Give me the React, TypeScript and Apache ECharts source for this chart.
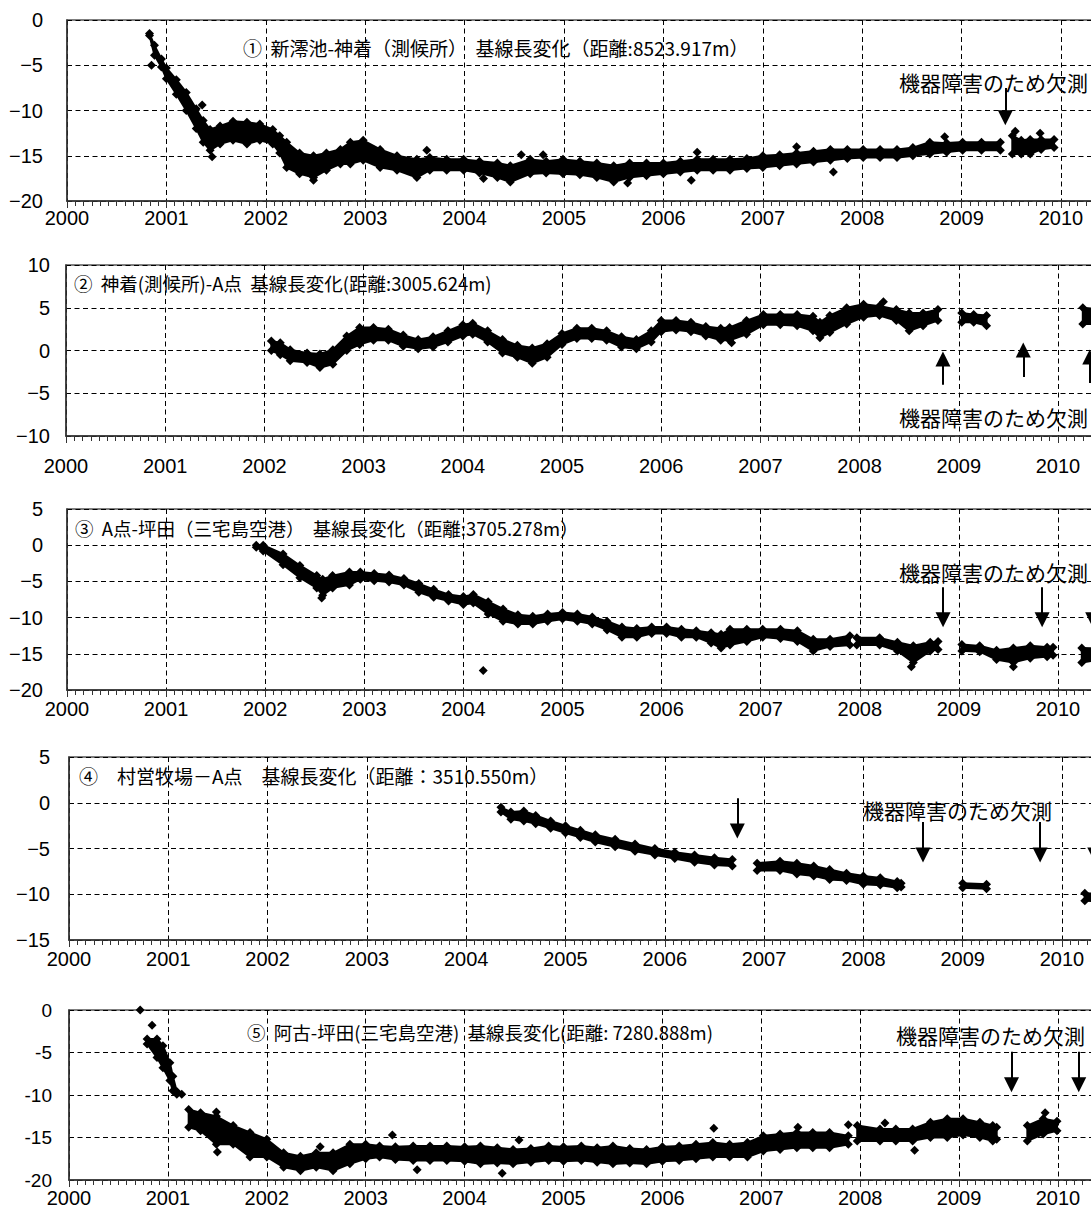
import React, { useEffect, useRef } from "react";
import * as echarts from "echarts";

type Row = [number, number, number] | null;

// ---- data: [year, upper edge, lower edge] ; null = data gap ----
const panel1Band: Row[] = [
  [2000.83, -1.5, -1.7], [2000.88, -2.8, -3.9], [2000.95, -4.3, -5.2], [2001.0, -5.3, -6.5],
  [2001.1, -6.6, -8.2], [2001.2, -8.0, -10.0], [2001.3, -9.8, -12.0], [2001.37, -11.1, -13.5],
  [2001.44, -12.1, -14.4], [2001.54, -11.7, -13.7], [2001.67, -11.2, -13.3], [2001.81, -11.3, -13.7],
  [2001.94, -11.5, -13.3], [2002.07, -12.1, -13.7], [2002.14, -12.8, -14.7], [2002.21, -13.5, -16.3],
  [2002.34, -14.7, -17.0], [2002.48, -15.0, -17.4], [2002.61, -14.7, -16.6], [2002.75, -14.3, -15.9],
  [2002.85, -13.5, -15.9], [2002.98, -13.3, -15.5], [2003.15, -14.3, -16.3], [2003.32, -15.0, -16.6],
  [2003.52, -15.4, -17.4], [2003.65, -15.2, -16.6], [2003.82, -15.4, -16.6], [2003.99, -15.4, -16.6],
  [2004.15, -15.6, -16.9], [2004.33, -15.8, -17.4], [2004.46, -16.1, -17.9], [2004.66, -15.4, -17.0],
  [2004.82, -15.6, -16.9], [2004.99, -15.4, -17.0], [2005.16, -15.6, -17.1], [2005.33, -15.8, -17.4],
  [2005.5, -16.1, -17.9], [2005.66, -15.8, -17.4], [2005.83, -15.8, -17.2], [2006.0, -15.8, -17.0],
  [2006.17, -15.6, -16.8], [2006.34, -15.4, -16.6], [2006.5, -15.4, -16.6], [2006.67, -15.4, -16.6],
  [2006.84, -15.3, -16.4], [2007.0, -15.0, -16.3], [2007.17, -14.9, -16.1], [2007.34, -14.7, -15.9],
  [2007.51, -14.5, -15.7], [2007.68, -14.3, -15.5], [2007.85, -14.3, -15.3], [2008.01, -14.3, -15.2],
  [2008.18, -14.3, -15.2], [2008.35, -14.3, -15.2], [2008.51, -14.1, -15.0], [2008.68, -13.5, -14.8],
  [2008.85, -13.6, -14.6], [2009.01, -13.5, -14.4], [2009.2, -13.5, -14.4], [2009.39, -13.5, -14.4],
  null,
  [2009.51, -12.8, -14.8], [2009.6, -13.3, -14.8], [2009.69, -13.2, -14.8], [2009.8, -13.2, -14.3],
  [2009.93, -13.2, -14.1],
];

const panel2Band: Row[] = [
  [2002.07, 1.1, 0.0], [2002.16, 0.9, -0.5], [2002.26, 0.1, -1.2], [2002.43, -0.3, -1.4],
  [2002.56, -0.4, -2.0], [2002.69, 0.1, -1.6], [2002.83, 1.7, 0.0], [2002.96, 2.7, 0.7],
  [2003.1, 2.7, 1.2], [2003.25, 2.5, 1.2], [2003.4, 1.8, 0.5], [2003.55, 1.3, 0.2],
  [2003.7, 1.6, 0.4], [2003.85, 2.3, 1.0], [2004.0, 3.0, 1.7], [2004.1, 3.2, 1.9],
  [2004.25, 2.3, 1.0], [2004.4, 1.3, -0.3], [2004.55, 0.6, -0.8], [2004.7, 0.3, -1.5],
  [2004.85, 0.8, -0.8], [2005.0, 2.0, 0.7], [2005.15, 2.6, 1.4], [2005.3, 2.6, 1.4],
  [2005.45, 2.3, 1.2], [2005.6, 1.6, 0.4], [2005.75, 1.3, 0.2], [2005.9, 2.3, 1.0],
  [2006.0, 3.5, 2.2], [2006.15, 3.5, 2.4], [2006.3, 3.3, 2.2], [2006.45, 2.8, 1.7],
  [2006.6, 2.6, 1.2], [2006.69, 2.7, 1.2], [2006.86, 3.5, 1.9], [2007.03, 4.2, 3.0],
  [2007.2, 4.2, 3.0], [2007.37, 4.2, 2.9], [2007.53, 4.0, 2.3], [2007.6, 3.3, 1.5],
  [2007.7, 4.1, 2.1], [2007.87, 5.0, 3.1], [2008.04, 5.4, 3.9], [2008.2, 5.2, 4.1],
  [2008.37, 4.8, 3.5], [2008.5, 4.4, 2.3], [2008.64, 4.4, 2.9], [2008.79, 4.8, 3.5],
  null,
  [2009.03, 4.4, 3.3], [2009.15, 4.2, 3.3], [2009.28, 4.1, 2.9],
  null,
  [2010.25, 5.0, 3.1], [2010.45, 4.8, 3.1],
];

const panel3Band: Row[] = [
  [2001.91, 0.0, -0.3], [2001.98, 0.0, -0.8], [2002.18, -1.2, -2.7], [2002.35, -2.8, -4.5],
  [2002.52, -4.2, -5.9], [2002.58, -4.7, -6.9], [2002.68, -4.2, -5.9], [2002.85, -3.7, -5.5],
  [2002.96, -3.7, -4.7], [2003.1, -3.9, -4.9], [2003.25, -4.1, -5.1], [2003.4, -4.6, -5.5],
  [2003.55, -5.3, -6.5], [2003.7, -6.1, -7.2], [2003.85, -6.8, -7.7], [2004.0, -7.1, -8.2],
  [2004.1, -6.8, -8.0], [2004.25, -7.8, -9.5], [2004.4, -8.8, -10.5], [2004.55, -9.6, -10.9],
  [2004.7, -9.8, -10.9], [2004.85, -9.5, -10.5], [2005.0, -9.3, -10.2], [2005.15, -9.5, -10.5],
  [2005.3, -9.9, -10.9], [2005.45, -10.5, -11.7], [2005.6, -11.3, -12.7], [2005.75, -11.5, -12.7],
  [2005.9, -11.3, -12.2], [2006.05, -11.3, -12.2], [2006.2, -11.6, -12.7], [2006.35, -11.8, -12.7],
  [2006.5, -12.1, -13.5], [2006.6, -12.3, -14.2], [2006.69, -11.6, -13.8], [2006.86, -11.6, -13.3],
  [2007.02, -11.6, -12.7], [2007.2, -11.6, -12.9], [2007.37, -11.8, -13.3], [2007.53, -13.0, -14.6],
  [2007.7, -13.0, -14.0], [2007.9, -12.5, -13.8],
  null,
  [2007.97, -12.8, -13.8], [2008.2, -12.8, -13.8], [2008.38, -13.4, -14.6], [2008.54, -13.9, -16.2],
  [2008.71, -13.4, -14.6], [2008.79, -13.3, -14.4],
  null,
  [2009.03, -13.7, -14.6], [2009.21, -13.9, -14.7], [2009.38, -14.5, -15.8], [2009.55, -14.2, -16.2],
  [2009.72, -13.9, -15.6], [2009.89, -14.1, -15.4], [2009.95, -14.1, -15.2],
  null,
  [2010.24, -14.2, -16.2], [2010.45, -14.3, -15.7],
];

const panel4Band: Row[] = [
  [2004.35, -0.5, -1.0], [2004.45, -1.0, -1.8], [2004.58, -0.9, -2.0], [2004.7, -1.4, -2.3],
  [2004.85, -2.0, -2.8], [2005.0, -2.5, -3.3], [2005.15, -3.0, -3.8], [2005.3, -3.5, -4.3],
  [2005.5, -4.0, -4.8], [2005.7, -4.5, -5.3], [2005.9, -5.0, -5.7], [2006.1, -5.4, -6.1],
  [2006.3, -5.7, -6.5], [2006.5, -6.0, -6.8], [2006.68, -6.2, -6.9],
  null,
  [2006.93, -6.6, -7.4], [2007.16, -6.4, -7.4], [2007.33, -6.6, -7.8], [2007.5, -6.9, -8.0],
  [2007.66, -7.3, -8.4], [2007.83, -7.7, -8.5], [2008.0, -8.0, -8.9], [2008.17, -8.2, -9.0],
  [2008.34, -8.6, -9.3], [2008.38, -8.8, -9.2],
  null,
  [2009.0, -8.8, -9.3], [2009.24, -8.9, -9.4],
  null,
  [2010.23, -9.9, -10.7], [2010.45, -10.0, -10.8],
];

const panel5Band: Row[] = [
  [2000.79, -3.4, -4.0], [2000.89, -3.4, -5.6], [2000.95, -4.2, -6.8], [2001.02, -6.2, -8.3],
  [2001.05, -7.8, -9.5], [2001.09, -9.6, -9.9],
  null,
  [2001.21, -11.7, -13.8], [2001.33, -12.1, -14.2], [2001.49, -12.5, -15.8], [2001.66, -13.6, -15.8],
  [2001.83, -14.4, -17.3], [2002.0, -15.2, -17.3], [2002.17, -16.8, -18.5], [2002.34, -17.2, -18.9],
  [2002.5, -16.8, -18.5], [2002.67, -16.8, -18.9], [2002.84, -15.8, -18.1], [2003.0, -15.8, -17.5],
  [2003.14, -16.0, -17.3], [2003.3, -16.1, -17.6], [2003.48, -16.0, -17.7], [2003.65, -16.0, -17.7],
  [2003.82, -16.0, -17.7], [2004.0, -16.1, -17.8], [2004.16, -16.0, -18.1], [2004.33, -16.2, -18.0],
  [2004.49, -16.4, -18.1], [2004.67, -16.3, -17.9], [2004.85, -16.0, -17.7], [2005.0, -16.1, -17.8],
  [2005.18, -16.0, -17.7], [2005.34, -16.2, -17.9], [2005.5, -16.0, -18.1], [2005.67, -16.3, -18.0],
  [2005.84, -16.4, -18.1], [2006.0, -16.1, -17.8], [2006.17, -16.0, -17.7], [2006.34, -15.8, -17.5],
  [2006.51, -15.6, -17.3], [2006.68, -15.8, -17.3], [2006.86, -15.6, -17.3], [2007.02, -14.8, -16.6],
  [2007.19, -14.6, -16.4], [2007.36, -14.4, -16.2], [2007.52, -14.4, -16.2], [2007.69, -14.4, -16.2],
  [2007.88, -14.8, -15.8],
  null,
  [2007.97, -13.6, -15.4], [2008.2, -14.0, -15.4], [2008.36, -14.0, -15.4], [2008.53, -14.0, -15.4],
  [2008.71, -13.2, -15.0], [2008.88, -12.8, -15.0], [2009.04, -12.8, -14.7], [2009.21, -13.2, -15.0],
  [2009.34, -13.6, -15.4], [2009.38, -13.8, -15.2],
  null,
  [2009.69, -13.6, -15.4], [2009.85, -12.8, -14.6], [2009.99, -13.1, -14.2],
];

const panel1Points: [number, number][] = [
  [2000.85, -5.0], [2001.36, -9.4], [2001.46, -15.1], [2002.48, -17.7], [2003.62, -14.4],
  [2004.19, -17.5], [2004.57, -14.9], [2004.79, -14.9], [2005.64, -18.0], [2006.34, -14.6],
  [2006.28, -17.7], [2007.34, -14.0], [2007.71, -16.8], [2008.83, -12.9], [2009.54, -12.3],
  [2009.79, -12.5],
];
const panel2Points: [number, number][] = [[2008.24, 5.7], [2006.71, 0.9]];
const panel3Points: [number, number][] = [[2004.2, -17.3], [2002.57, -7.3], [2008.52, -16.8], [2009.55, -16.8]];
const panel4Points: [number, number][] = [];
const panel5Points: [number, number][] = [
  [2000.72, 0], [2000.84, -1.8], [2001.14, -9.9], [2009.87, -12.1], [2001.49, -12.0],
  [2001.5, -16.7], [2002.54, -16.1], [2003.27, -14.7], [2003.52, -18.8], [2004.38, -19.2],
  [2004.55, -15.3], [2006.52, -13.9], [2007.37, -13.8], [2007.88, -13.5], [2008.25, -13.3],
  [2008.55, -16.5],
];

// arrows: [year, from value, to value (arrow head)]
const panel1Arrows: [number, number, number][] = [[2009.44, -7.5, -10.8]];
const panel2Arrows: [number, number, number][] = [[2008.84, -4.0, -1.0], [2009.65, -3.1, 0.06], [2010.32, -3.8, -0.76]];
const panel3Arrows: [number, number, number][] = [[2008.84, -5.8, -10.3], [2009.84, -5.8, -10.3], [2010.35, -5.8, -10.3]];
const panel4Arrows: [number, number, number][] = [[2006.73, 0.5, -3.1], [2008.6, -2.1, -5.7], [2009.78, -2.1, -5.7], [2010.33, -2.1, -5.7]];
const panel5Arrows: [number, number, number][] = [[2009.53, -4.9, -8.8], [2010.21, -4.9, -8.8]];

const panelTitles = [
  "①  新澪池-神着（測候所）  基線長変化（距離:8523.917m）",
  "②  神着(測候所)-A点  基線長変化(距離:3005.624m)",
  "③  A点-坪田（三宅島空港）  基線長変化（距離:3705.278m）",
  "④　村営牧場－A点　基線長変化（距離：3510.550m）",
  "⑤  阿古-坪田(三宅島空港)  基線長変化(距離: 7280.888m)",
];
const noteText = "機器障害のため欠測";

const yRanges: [number, number][] = [[-20, 0], [-10, 10], [-20, 5], [-15, 5], [-20, 0]];
const xRange: [number, number] = [2000, 2011];

// ---- layout (pixels) ----
const LAYOUT = [
  { left: 67, top: 20, height: 181, ppy: 99.4, yMargin: 24, xMargin: 8, yFont: 20, minus: "\u2212", title: [243, 47], titleSize: 19, note: [899, 82] },
  { left: 66, top: 265, height: 171, ppy: 99.2, yMargin: 16, xMargin: 21, yFont: 20, minus: "\u2212", title: [74, 283], titleSize: 18.5, note: [899, 417] },
  { left: 67, top: 509, height: 181, ppy: 99.1, yMargin: 24, xMargin: 10, yFont: 20, minus: "\u2212", title: [75, 528], titleSize: 18.5, note: [899, 572] },
  { left: 69, top: 757, height: 183, ppy: 99.3, yMargin: 19, xMargin: 10, yFont: 20, minus: "\u2212", title: [79, 775], titleSize: 19, note: [863, 810] },
  { left: 69, top: 1010, height: 170, ppy: 98.9, yMargin: 17, xMargin: 9, yFont: 19, minus: "-", title: [247, 1032], titleSize: 18.5, note: [896, 1035] },
];

const NUM_FONT = "'Liberation Sans', Arial, sans-serif";
const JP_FONT = "'Noto Sans CJK JP', sans-serif";

const bands = [panel1Band, panel2Band, panel3Band, panel4Band, panel5Band];
const points = [panel1Points, panel2Points, panel3Points, panel4Points, panel5Points];
const arrows = [panel1Arrows, panel2Arrows, panel3Arrows, panel4Arrows, panel5Arrows];

function buildOption() {
  const grid: any[] = [];
  const xAxis: any[] = [];
  const yAxis: any[] = [];
  const series: any[] = [];
  const graphic: any[] = [];

  LAYOUT.forEach((L, k) => {
    grid.push({
      left: L.left,
      top: L.top,
      width: L.ppy * (xRange[1] - xRange[0]),
      height: L.height,
      show: true,
      borderColor: "#555",
      borderWidth: 1.5,
      backgroundColor: "transparent",
      containLabel: false,
      outerBoundsMode: "none",
    });
    xAxis.push({
      gridIndex: k,
      type: "value",
      min: xRange[0],
      max: xRange[1],
      interval: 1,
      axisLine: { show: true, onZero: false, lineStyle: { color: "#333", width: 1.5 } },
      axisTick: { show: true, inside: false, length: 7, lineStyle: { color: "#333", width: 1 } },
      minorTick: { show: true, splitNumber: 12, length: 5, lineStyle: { color: "#333", width: 1 } },
      splitLine: { show: true, lineStyle: { color: "#000", width: 1, type: [5, 3.5] } },
      minorSplitLine: { show: false },
      axisLabel: {
        color: "#000",
        fontSize: 20,
        lineHeight: 18,
        fontFamily: NUM_FONT,
        margin: L.xMargin,
        showMaxLabel: false,
        formatter: (v: number) => String(v),
      },
    });
    yAxis.push({
      gridIndex: k,
      type: "value",
      min: yRanges[k][0],
      max: yRanges[k][1],
      interval: 5,
      axisLine: { show: true, onZero: false, lineStyle: { color: "#333", width: 1.5 } },
      axisTick: { show: false },
      splitLine: { show: true, lineStyle: { color: "#000", width: 1, type: [5, 3.5] } },
      axisLabel: {
        color: "#000",
        fontSize: L.yFont,
        fontFamily: NUM_FONT,
        margin: L.yMargin,
        formatter: (v: number) => (v < 0 ? L.minus + Math.abs(v) : String(v)),
      },
    });

    const band = bands[k];
    const bandItems: number[][] = [];
    for (let i = 0; i < band.length - 1; i++) {
      const a = band[i];
      const b = band[i + 1];
      if (a && b) bandItems.push([a[0], a[1], a[2], b[0], b[1], b[2]]);
    }
    const edgePts: number[][] = [];
    band.forEach((r) => {
      if (r) {
        edgePts.push([r[0], r[1]]);
        edgePts.push([r[0], r[2]]);
      }
    });

    series.push({
      type: "custom",
      xAxisIndex: k,
      yAxisIndex: k,
      data: bandItems,
      encode: { x: [0, 3], y: [1, 2, 4, 5] },
      clip: true,
      silent: true,
      z: 2,
      renderItem: (_params: any, api: any) => {
        const p0 = api.coord([api.value(0), api.value(1)]);
        const p1 = api.coord([api.value(3), api.value(4)]);
        const p2 = api.coord([api.value(3), api.value(5)]);
        const p3 = api.coord([api.value(0), api.value(2)]);
        return {
          type: "polygon",
          shape: { points: [p0, p1, p2, p3] },
          style: { fill: "#000", stroke: "#000", lineWidth: 2 },
        };
      },
    });

    series.push({
      type: "scatter",
      xAxisIndex: k,
      yAxisIndex: k,
      data: edgePts.concat(points[k] as number[][]),
      symbol: "diamond",
      symbolSize: 9,
      itemStyle: { color: "#000", opacity: 1, borderWidth: 0 },
      silent: true,
      clip: true,
      z: 3,
      markLine: {
        silent: true,
        symbol: ["none", "triangle"],
        symbolSize: [15, 15],
        lineStyle: { color: "#000", width: 2, type: "solid", opacity: 1 },
        itemStyle: { color: "#000" },
        label: { show: false },
        emphasis: { disabled: true },
        data: arrows[k].map((a) => [{ coord: [a[0], a[1]] }, { coord: [a[0], a[2]] }]),
      },
    });

    graphic.push({
      type: "text",
      x: L.title[0],
      y: L.title[1],
      silent: true,
      style: {
        text: panelTitles[k],
        fontSize: L.titleSize,
        fontFamily: JP_FONT,
        fill: "#000",
        verticalAlign: "middle",
      },
    });
    graphic.push({
      type: "text",
      x: L.note[0],
      y: L.note[1],
      silent: true,
      style: {
        text: noteText,
        fontSize: 21,
        fontFamily: JP_FONT,
        fill: "#000",
        verticalAlign: "middle",
      },
    });
  });

  return {
    animation: false,
    backgroundColor: "#fff",
    grid,
    xAxis,
    yAxis,
    series,
    graphic,
  };
}

export default function App() {
  const ref = useRef<HTMLDivElement>(null);
  useEffect(() => {
    if (!ref.current) return;
    const chart = echarts.init(ref.current, undefined, { renderer: "svg" });
    chart.setOption(buildOption() as any);
    return () => chart.dispose();
  }, []);
  return (
    <div
      style={{
        position: "absolute",
        left: 0,
        top: 0,
        width: 1091,
        height: 1209,
        overflow: "hidden",
        background: "#fff",
      }}
    >
      <div ref={ref} style={{ width: 1200, height: 1209 }} />
    </div>
  );
}
